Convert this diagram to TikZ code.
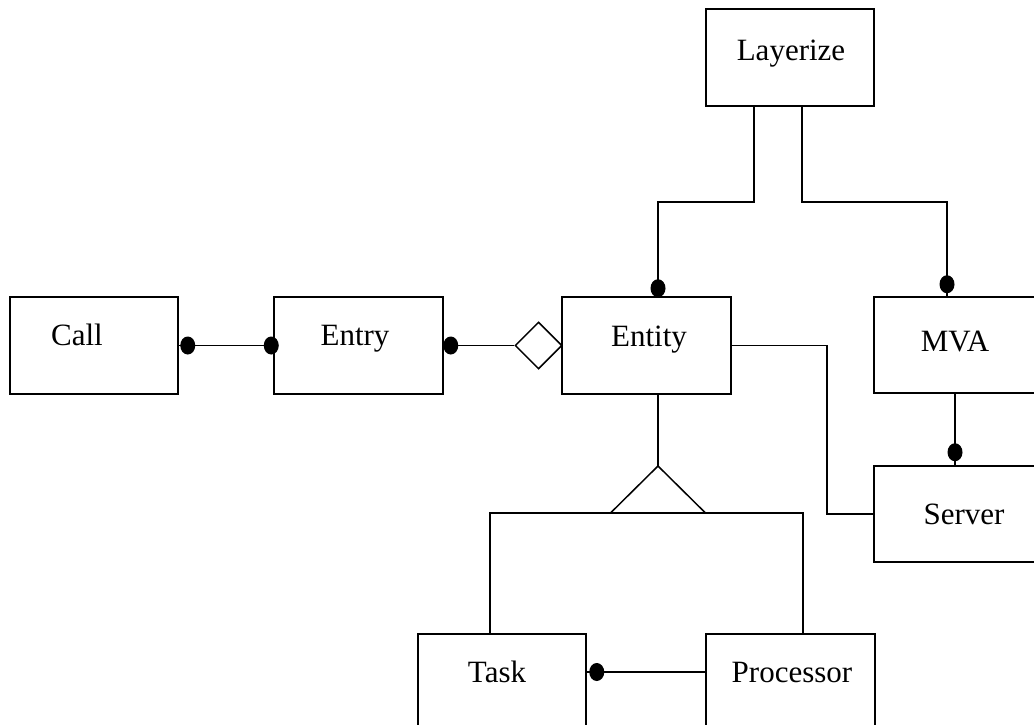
\documentclass[tikz,border=0pt]{standalone}
\usepackage{fontspec}
\setmainfont{Liberation Serif}
\usetikzlibrary{shapes.geometric,calc}
\tikzset{
  ent/.style={draw, line width=1.5pt, rectangle, inner sep=0pt},
  lbl/.style={anchor=base, inner sep=0pt, font=\fontsize{31}{37}\selectfont},
  wire/.style={line width=1.5pt},
  blob/.style={fill=black},
}
\newcommand{\blobat}[1]{\fill[blob] #1 ellipse [x radius=7.5pt, y radius=9pt];}
\begin{document}
\begin{tikzpicture}[x=1pt, y=-1pt]
\useasboundingbox (0,0) rectangle (1034,725);
\clip (0,0) rectangle (1034,725);

% entity boxes
\node[ent, minimum width=168pt, minimum height=97pt] (call)     at (94,345.5)  {};
\node[ent, minimum width=169pt, minimum height=97pt] (entry)    at (358.5,345.5) {};
\node[ent, minimum width=169pt, minimum height=97pt] (entity)   at (646.5,345.5) {};
\node[ent, minimum width=168pt, minimum height=97pt] (layerize) at (790,57.5) {};
\node[ent, minimum width=169pt, minimum height=96pt] (mva)      at (958.5,345) {};
\node[ent, minimum width=169pt, minimum height=96pt] (server)   at (958.5,514) {};
\node[ent, minimum width=168pt, minimum height=97pt] (task)     at (502,682.5) {};
\node[ent, minimum width=169pt, minimum height=97pt] (proc)     at (790.5,682.5) {};

% box captions
\node[lbl] (calltext)     at (77,345)  {Call};
\node[lbl] (entrytext)    at (355,345) {Entry};
\node[lbl] (entitytext)   at (649,346) {Entity};
\node[lbl] (layerizetext) at (791,61)  {Layerize};
\node[lbl] (mvatext)      at (955,351) {MVA};
\node[lbl] (servertext)   at (964,524) {Server};
\node[lbl] (tasktext)     at (497,682) {Task};
\node[lbl] (proctext)     at (792,682) {Processor};

% aggregation diamond beside Entity
\node[draw, line width=1.5pt, diamond, inner sep=0pt, minimum width=47pt, minimum height=47pt] (agg) at (538.5,345.5) {};

% generalisation triangle below Entity
\coordinate (gen) at (658,466);
\coordinate (genbase) at (658,513);
\draw[wire, line join=miter] (gen) -- (610.5,513) -- (705.5,513) -- cycle;

% Call -- Entry
\draw[wire] (call.east) -- (entry.west);
\blobat{([xshift=9pt]call.east)}
\blobat{([xshift=-2pt]entry.west)}

% Entry -- Entity (aggregation)
\draw[wire] (entry.east) -- (agg.west);
\blobat{([xshift=7pt]entry.east)}

% Layerize -- Entity
\draw[wire] ([xshift=-36pt]layerize.south) -- ++(0,95) -| ([xshift=11.5pt]entity.north);
\blobat{([xshift=11.5pt,yshift=8pt]entity.north)}

% Layerize -- MVA
\draw[wire] ([xshift=12pt]layerize.south) -- ++(0,95) -| ([xshift=-11.5pt]mva.north);
\blobat{([xshift=-11.5pt,yshift=12pt]mva.north)}

% Entity -- Server
\draw[wire] (entity.east) -- ++(95,0) |- (server.west);

% MVA -- Server
\draw[wire] ([xshift=-3.5pt]mva.south) -- ([xshift=-3.5pt]server.north);
\blobat{([xshift=-3.5pt,yshift=13pt]server.north)}

% Entity -- generalisation
\draw[wire] ([xshift=11.5pt]entity.south) -- (gen);
\draw[wire] ([xshift=-12pt]task.north) |- (genbase) -| ([xshift=12.5pt]proc.north);

% Task -- Processor
\draw[wire] ([yshift=10.5pt]task.east) -- ([yshift=10.5pt]proc.west);
\blobat{([xshift=10pt,yshift=10.5pt]task.east)}
\end{tikzpicture}
\end{document}
